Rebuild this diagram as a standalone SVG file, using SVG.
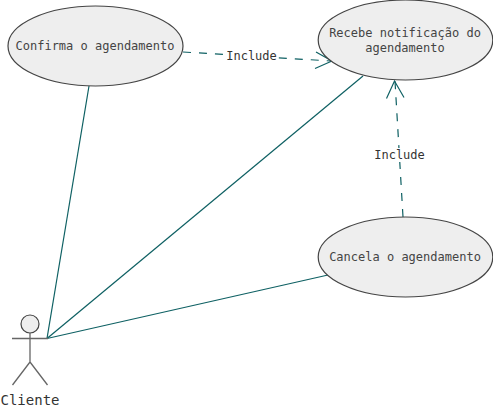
<svg xmlns="http://www.w3.org/2000/svg" width="493" height="410" viewBox="0 0 493 410">
<style>
.n{fill:#eeeeee;stroke:#444444;stroke-width:1.2}
.a{fill:none;stroke:#666666;stroke-width:1.3}
.c{fill:none;stroke:#0e6063;stroke-width:1.2}
.d{stroke-dasharray:8 8}
.t{font-family:"DejaVu Sans Mono","Liberation Mono",monospace;font-size:12px;fill:#444444;text-anchor:middle}
.l{fill:#333333}
.b{fill:#ffffff;stroke:none}
</style>
<rect width="493" height="410" fill="#ffffff"/>
<g id="connectors">
<path class="c" d="M89 86L47 338.500"/>
<path class="c" d="M363 76L47 338.500"/>
<path class="c" d="M328 275L47 338.500"/>
<path class="c d" d="M183 52L331 61"/>
<path class="c" d="M316 52L332 61L315 68.500"/>
<path class="c d" d="M403 217L395 81"/>
<path class="c" d="M386.500 98.500L394.500 81L404 97.500"/>
<rect class="b" x="226" y="49" width="51" height="14"/>
<text class="t l" x="251.500" y="60">Include</text>
<rect class="b" x="374" y="148" width="51" height="14"/>
<text class="t l" x="399.500" y="159">Include</text>
</g>
<g id="confirma">
<ellipse class="n" cx="95.500" cy="46" rx="87.500" ry="40"/>
<text class="t" x="95" y="50">Confirma o agendamento</text>
</g>
<g id="recebe">
<ellipse class="n" cx="405.500" cy="40" rx="87.300" ry="40"/>
<text class="t" x="405" y="37">Recebe notificação do</text>
<text class="t" x="405" y="52">agendamento</text>
</g>
<g id="cancela">
<ellipse class="n" cx="405.500" cy="257" rx="87.300" ry="40"/>
<text class="t" x="405" y="261">Cancela o agendamento</text>
</g>
<g id="cliente">
<circle class="n" cx="30" cy="324" r="9"/>
<path class="a" d="M30 333V362M12 338.500H48M30 362L12.500 385M30 362L47.500 385"/>
<text class="t l" style="font-size:14px" x="30" y="405">Cliente</text>
</g>
</svg>
